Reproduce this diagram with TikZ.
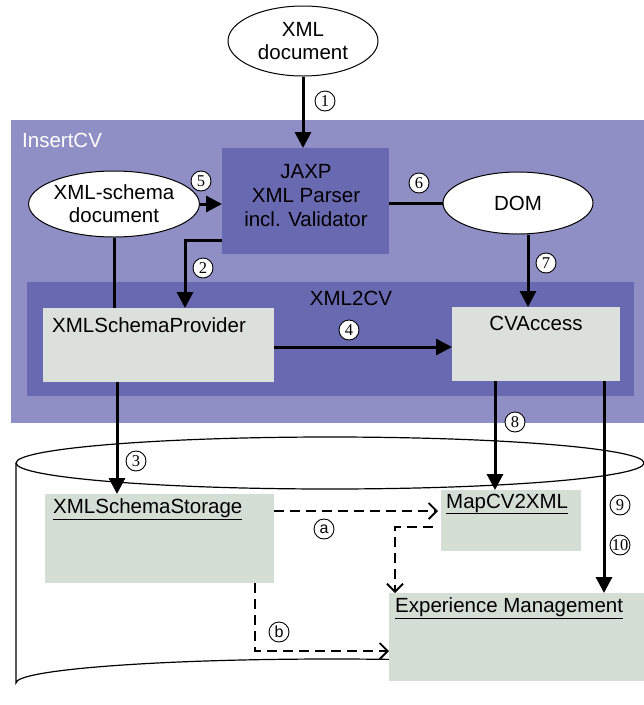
\documentclass[tikz,border=0pt]{standalone}
\usepackage{fontspec}
\setmainfont{Liberation Sans}
\newfontfamily\numfont{Liberation Serif}
\usetikzlibrary{positioning,shapes.geometric,arrows.meta}

\definecolor{insertcol}{RGB}{143,143,198}
\definecolor{xmlcvcol}{RGB}{105,105,178}
\definecolor{provcol}{RGB}{220,224,220}
\definecolor{storecol}{RGB}{213,222,213}

\tikzset{
  docell/.style={ellipse, draw=black, line width=1pt, fill=white, align=center,
    inner sep=0pt, minimum width=150pt, font=\fontsize{20.5}{23}\selectfont},
  comp/.style={rectangle, inner sep=0pt, anchor=north west},
  lbl/.style={inner sep=0pt, font=\fontsize{20.5}{24}\selectfont},
  num/.style={circle, draw=black, line width=0.9pt, fill=white, inner sep=0pt,
    minimum size=20pt, font=\numfont\fontsize{16.5}{16.5}\selectfont},
  flow/.style={line width=3pt, -{Triangle[length=16pt,width=16pt]}},
  plain/.style={line width=3pt},
  dep/.style={line width=2.8pt, dash pattern=on 10pt off 6pt,
    -{Straight Barb[length=8pt,width=16pt,line width=1.8pt]}}
}

\begin{document}
\begin{tikzpicture}[x=1pt, y=-1pt]
\useasboundingbox (0,0) rectangle (644,705);

% InsertCV and XML2CV areas
\node[comp, fill=insertcol, minimum width=633pt, minimum height=303pt] (insertcv) at (11,120) {};
\node[lbl, anchor=west, text=white] (insertlbl) at (22,140) {InsertCV};
\node[comp, fill=xmlcvcol, minimum width=607pt, minimum height=114pt] (xmlcv) at (27,282) {};
\node[lbl, text=black] (xmlcvlbl) at (351,298) {XML2CV};

% Database
\draw[line width=1.2pt] (330,463) ellipse [x radius=314, y radius=26];
\draw[line width=1.2pt] (16,463) -- (16,683) arc[start angle=180, end angle=360, x radius=316, y radius=24];

% Documents
\node[docell, minimum height=70pt] (xmldoc) at (303,41) {XML\\document};
\node[docell, minimum height=66pt] (schema) at (114,204) {XML-schema\\document};
\node[docell, minimum height=62pt] (dom) at (518,203) {DOM};

% Parser
\node[comp, fill=xmlcvcol, minimum width=167pt, minimum height=106pt] (jaxp) at (222,148) {};
\node[lbl, align=center] (jaxplbl) at (306,196) {JAXP\\XML Parser\\incl. Validator};

% Components
\node[comp, fill=provcol, minimum width=231pt, minimum height=74pt] (prov) at (43,308) {};
\node[lbl, anchor=west] (provlbl) at (52,325) {XMLSchemaProvider};
\node[comp, fill=provcol, minimum width=168pt, minimum height=74pt] (cva) at (452,307) {};
\node[lbl] (cvalbl) at (536,323) {CVAccess};

% Storage
\node[comp, fill=storecol, minimum width=229pt, minimum height=89pt] (store) at (45,494) {};
\node[lbl, anchor=west] (storelbl) at (53,509) {\underline{XMLSchemaStorage}};
\node[comp, fill=storecol, minimum width=140pt, minimum height=61pt] (map) at (441,490) {};
\node[lbl, anchor=west] (maplbl) at (446,504) {\underline{MapCV2XML}};
\node[comp, fill=storecol, minimum width=258pt, minimum height=88pt] (exp) at (389,593) {};
\node[lbl, anchor=west] (explbl) at (395,608) {\underline{Experience Management}};

% Connector positions
\coordinate (c2) at (185,240);
\coordinate (c3) at (117,0);
\coordinate (c4) at (0,347);
\coordinate (c7) at (528,0);
\coordinate (c8) at (495,0);
\coordinate (c9) at (604,0);
\coordinate (ca) at (0,511);
\coordinate (cm) at (395,527);
\coordinate (cb) at (255,651);

% Connections
\draw[flow] (xmldoc.south) -- (xmldoc.south |- jaxp.north);
\draw[flow] (schema.east) -- (schema.east -| jaxp.west);
\draw[plain] (jaxp.east |- dom.west) -- (dom.west);
\draw[flow] (jaxp.west |- c2) -- (c2) -- (c2 |- prov.north);
\draw[plain] (schema.south) -- (schema.south |- prov.north);
\draw[flow] (c7 |- dom.south) -- (c7 |- cva.north);
\draw[flow] (prov.east |- c4) -- (cva.west |- c4);
\draw[flow] (c3 |- prov.south) -- (c3 |- store.north);
\draw[flow] (c8 |- cva.south) -- (c8 |- map.north);
\draw[flow] (c9 |- cva.south) -- (c9 |- exp.north);
\draw[dep] (store.east |- ca) -- ([xshift=-3pt]map.west |- ca);
\draw[dep] ([xshift=-8pt]map.west |- cm) -- (cm) -- (cm |- exp.north);
\draw[dep] (cb |- store.south) -- (cb) -- (exp.west |- cb);

% Numbers
\node[num] (n1) at (325,101) {1};
\node[num] (n2) at (203,268) {2};
\node[num] (n3) at (136,461) {3};
\node[num] (n4) at (349,330) {4};
\node[num] (n5) at (201,181) {5};
\node[num] (n6) at (419,183) {6};
\node[num] (n7) at (546,263) {7};
\node[num] (n8) at (515,422) {8};
\node[num] (n9) at (620,505) {9};
\node[num] (n10) at (620,545) {10};
\node[num, font=\fontsize{16}{16}\selectfont] (na) at (324,529) {a};
\node[num, font=\fontsize{16}{16}\selectfont] (nb) at (279,632) {b};

\end{tikzpicture}
\end{document}
